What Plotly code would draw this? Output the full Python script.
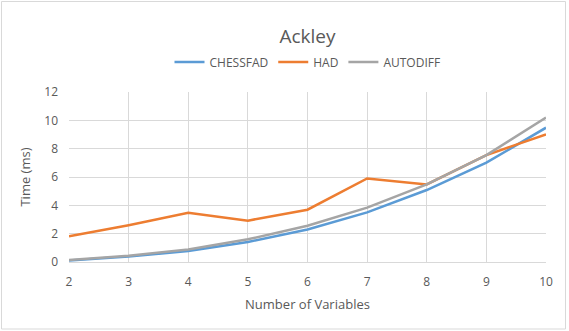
import plotly.graph_objects as go

# Ackley benchmark timings
num_vars = [2, 3, 4, 5, 6, 7, 8, 9, 10]
chessfad = [0.10, 0.38, 0.78, 1.41, 2.30, 3.50, 5.08, 7.01, 9.48]
had = [1.81, 2.60, 3.48, 2.92, 3.69, 5.90, 5.48, 7.55, 9.01]
autodiff = [0.14, 0.45, 0.89, 1.60, 2.56, 3.84, 5.48, 7.55, 10.19]

W, H = 569, 331
L, R, T, B = 69, 23, 92, 69
pw, ph = W - L - R, H - T - B

font = dict(family="Open Sans, Liberation Sans, sans-serif", color="#595959")

fig = go.Figure()
for name, vals, col in [
    ("CHESSFAD", chessfad, "#5B9BD5"),
    ("HAD", had, "#ED7D31"),
    ("AUTODIFF", autodiff, "#A5A5A5"),
]:
    fig.add_trace(go.Scatter(x=num_vars, y=vals, mode="lines", name=name,
                             line=dict(color=col, width=2.5)))

# chart area border
fig.add_shape(type="rect", xref="paper", yref="paper", layer="below",
              x0=(1.5 - L) / pw, x1=(565.5 - L) / pw,
              y0=-(329 - T - ph) / ph, y1=1 + (T - 1.5) / ph,
              line=dict(color="#D9D9D9", width=1))

fig.update_layout(
    width=W, height=H,
    margin=dict(l=L, r=R, t=T, b=B, autoexpand=False),
    paper_bgcolor="white", plot_bgcolor="white",
    font=dict(size=12, **font),
    title=dict(text="Ackley", x=0.5, xref="paper", yref="container",
               y=1 - 36 / H, yanchor="middle",
               font=dict(size=19, **font)),
    legend=dict(orientation="h", x=0.5, xanchor="center", xref="paper",
                yref="container", y=1 - 62 / H, yanchor="middle",
                font=dict(size=12, **font), itemwidth=30),
    xaxis=dict(range=[2, 10], tickvals=num_vars, showgrid=True, gridcolor="#D9D9D9",
               showline=True, linecolor="#D9D9D9", zeroline=False, ticks="",
               ticklabelstandoff=9,
               title=dict(text="Number of Variables", font=dict(size=13, **font), standoff=10)),
    yaxis=dict(range=[0, 12], dtick=2, showgrid=True, gridcolor="#D9D9D9",
               zeroline=False, ticks="", ticklabelstandoff=10,
               title=dict(text="Time (ms)", font=dict(size=13, **font), standoff=10)),
)

# drop the default page margin so the chart sits at the window origin
fig.write_html("out.html", config={"displayModeBar": False},
               post_script="document.body.style.margin='0';")
